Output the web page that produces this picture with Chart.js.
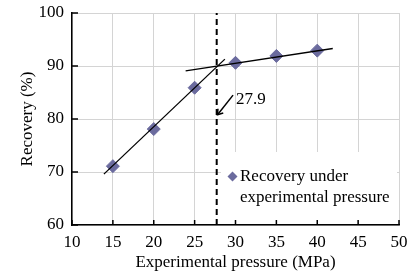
<!DOCTYPE html>
<html>
<head>
<meta charset="utf-8">
<script src="https://cdn.jsdelivr.net/npm/chart.js@4.4.0/dist/chart.umd.min.js"></script>
<style>
  html, body { margin: 0; padding: 0; background: #fff; }
  #wrap { width: 410px; height: 273px; }
</style>
</head>
<body>
<div id="wrap"><canvas id="myScatter"></canvas></div>
<script>
var pressure = [15, 20, 25, 30, 35, 40];
var recovery = [71.1, 78.1, 85.9, 90.6, 91.9, 92.9];

// two fitted trend lines
var lowFitX = [13.9, 28.7];
var lowFitY = [69.6, 91.3];
var highFitX = [23.9, 41.9];
var highFitY = [89.1, 93.3];

var breakX = 27.7;
var breakLabel = '27.9';
var arrowFrom = [29.7, 84.5];
var arrowTo = [27.8, 80.8];
var xTicks = [10, 15, 20, 25, 30, 35, 40, 45, 50];
var yTicks = [60, 70, 80, 90, 100];

var serif = "'Liberation Serif', 'Times New Roman', serif";
var markerColor = '#6b6b9e';

function pairs(xs, ys) {
    var out = [];
    for (var i = 0; i < xs.length; i++) out.push({x: xs[i], y: ys[i]});
    return out;
}

var extras = {
    id: 'extras',
    beforeDatasetsDraw: function (chart) {
        var ctx = chart.ctx;
        // legend box covers grid lines
        ctx.save();
        ctx.fillStyle = '#fff';
        ctx.fillRect(221, 152, 176, 68);
        ctx.restore();
    },
    afterDraw: function (chart) {
        var ctx = chart.ctx, xs = chart.scales.x, ys = chart.scales.y;
        var area = chart.chartArea;
        ctx.save();
        // inward tick marks
        ctx.strokeStyle = '#000';
        ctx.lineWidth = 1.5;
        ctx.beginPath();
        yTicks.forEach(function (v) {
            var py = ys.getPixelForValue(v);
            ctx.moveTo(area.left, py);
            ctx.lineTo(area.left + 6, py);
        });
        xTicks.forEach(function (v) {
            var px = xs.getPixelForValue(v);
            ctx.moveTo(px, area.bottom);
            ctx.lineTo(px, area.bottom - 5);
        });
        ctx.stroke();

        // arrow
        var x1 = xs.getPixelForValue(arrowFrom[0]), y1 = ys.getPixelForValue(arrowFrom[1]);
        var x2 = xs.getPixelForValue(arrowTo[0]), y2 = ys.getPixelForValue(arrowTo[1]);
        ctx.lineWidth = 1.5;
        ctx.beginPath();
        ctx.moveTo(x1, y1);
        ctx.lineTo(x2, y2);
        ctx.stroke();
        var ang = Math.atan2(y2 - y1, x2 - x1);
        ctx.beginPath();
        ctx.moveTo(x2 - 6 * Math.cos(ang - 0.6), y2 - 6 * Math.sin(ang - 0.6));
        ctx.lineTo(x2, y2);
        ctx.lineTo(x2 - 6 * Math.cos(ang + 0.6), y2 - 6 * Math.sin(ang + 0.6));
        ctx.stroke();

        ctx.fillStyle = '#000';
        ctx.font = '17px ' + serif;
        ctx.textBaseline = 'middle';
        ctx.fillText(breakLabel, x1 + 3, y1 + 4);

        // legend
        var lx = 232.5, ly = 176.5;
        ctx.fillStyle = markerColor;
        ctx.beginPath();
        ctx.moveTo(lx, ly - 5);
        ctx.lineTo(lx + 5, ly);
        ctx.lineTo(lx, ly + 5);
        ctx.lineTo(lx - 5, ly);
        ctx.closePath();
        ctx.fill();
        ctx.fillStyle = '#000';
        ctx.textBaseline = 'middle';
        ctx.fillText('Recovery under', 240, 177);
        ctx.fillText('experimental pressure', 240, 198);
        ctx.restore();
    }
};

new Chart(document.getElementById('myScatter'), {
    type: 'scatter',
    data: {
        datasets: [
            {
                label: 'Recovery under experimental pressure',
                data: pairs(pressure, recovery),
                pointStyle: 'rectRot',
                pointRadius: 6.5,
                backgroundColor: markerColor,
                borderColor: markerColor,
                order: 2
            },
            {
                label: 'fit1',
                data: pairs(lowFitX, lowFitY),
                showLine: true,
                pointRadius: 0,
                borderColor: '#000',
                borderWidth: 1.3,
                order: 1
            },
            {
                label: 'fit2',
                data: pairs(highFitX, highFitY),
                showLine: true,
                pointRadius: 0,
                borderColor: '#000',
                borderWidth: 1.3,
                order: 1
            },
            {
                label: 'break',
                data: [{x: breakX, y: 60}, {x: breakX, y: 100}],
                showLine: true,
                pointRadius: 0,
                borderColor: '#000',
                borderWidth: 2,
                borderDash: [6, 4],
                order: 0
            }
        ]
    },
    options: {
        responsive: true,
        maintainAspectRatio: false,
        animation: false,
        layout: { padding: { top: 13, right: 11, left: 17, bottom: 0 } },
        plugins: {
            legend: { display: false },
            tooltip: { enabled: false }
        },
        scales: {
            x: {
                type: 'linear',
                min: 10,
                max: 50,
                afterBuildTicks: function (s) { s.ticks = xTicks.map(function (v) { return {value: v}; }); },
                ticks: { color: '#000', font: { family: serif, size: 17 }, padding: 7, maxRotation: 0 },
                grid: { color: '#d4d4d4', lineWidth: 1, drawTicks: false },
                border: { color: '#000', width: 1.5 },
                title: { display: true, text: 'Experimental pressure (MPa)', color: '#000', font: { family: serif, size: 17 }, padding: { top: 0, bottom: 0 } },
                afterFit: function (s) { s.height = 48; s.paddingLeft = 0; s.paddingRight = 0; }
            },
            y: {
                type: 'linear',
                min: 60,
                max: 100,
                afterBuildTicks: function (s) { s.ticks = yTicks.map(function (v) { return {value: v}; }); },
                ticks: { color: '#000', font: { family: serif, size: 17 }, padding: 8 },
                grid: { color: '#d4d4d4', lineWidth: 1, drawTicks: false },
                border: { color: '#000', width: 1.5 },
                title: { display: true, text: 'Recovery (%)', color: '#000', font: { family: serif, size: 17 }, padding: { top: 0, bottom: 0 } },
                afterFit: function (s) { s.width = 55; s.paddingTop = 0; s.paddingBottom = 0; }
            }
        }
    },
    plugins: [extras]
});
</script>
</body>
</html>
